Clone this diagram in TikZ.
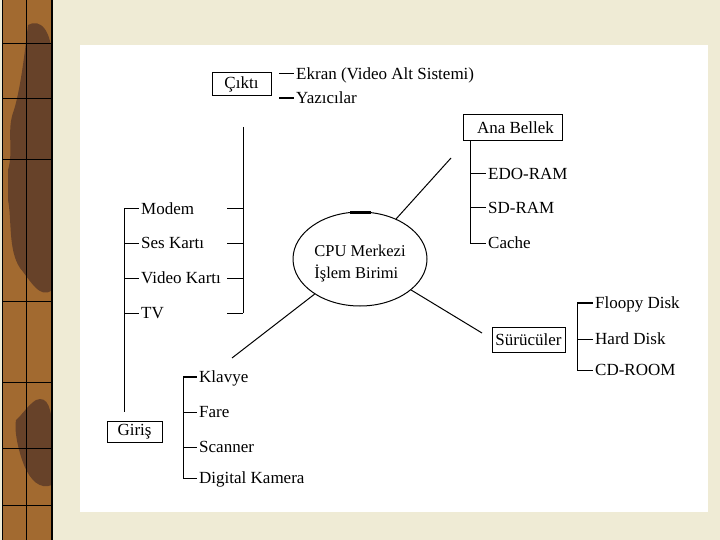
\documentclass[tikz,border=0pt]{standalone}
\usepackage{fontspec}
\setmainfont{Liberation Serif}
\usetikzlibrary{shapes.geometric}
\definecolor{bgbeige}{HTML}{EFEBD5}
\definecolor{woodlight}{HTML}{A26A30}
\definecolor{wooddark}{HTML}{674229}
\begin{document}
\begin{tikzpicture}[x=1pt,y=-1pt,
  every node/.style={font=\fontsize{17}{22}\selectfont},
  box/.style={draw, line width=1pt, inner sep=0pt, fill=white},
  leaf/.style={anchor=west, inner sep=2pt, text height=11.2pt, text depth=0pt},
  ln/.style={line width=1pt},
  thk/.style={line width=2pt},
  grid/.style={line width=0.8pt, black}]
% background
\fill[bgbeige] (0,0) rectangle (720,540);
\useasboundingbox (0,0) rectangle (720,540);
\fill[white] (80,45) rectangle (708,512);
% wooden strip
\fill[woodlight] (2,0) rectangle (52,540);
\fill[wooddark] (28,25) .. controls (40,18) and (52,30) .. (52,60) -- (52,290)
  .. controls (40,300) and (30,280) .. (20,268) .. controls (8,250) and (12,220) .. (8,200)
  -- (8,170) .. controls (14,150) and (6,130) .. (14,110) .. controls (20,90) and (24,60) .. (28,25) -- cycle;
\fill[wooddark] (36,400) .. controls (48,395) and (52,410) .. (52,430) -- (52,485)
  .. controls (40,490) and (30,480) .. (24,465) .. controls (18,450) and (14,430) .. (16,420)
  .. controls (22,415) and (28,405) .. (36,400) -- cycle;
\draw[line width=1.5pt] (2.5,0) -- (2.5,540);
\draw[line width=2pt] (51.5,0) -- (51.5,540);
\draw[grid] (26,0) -- (26,540);
\foreach \yy in {43,98,159,301,382,448,505} \draw[grid] (2,\yy) -- (52,\yy);

% main nodes
\node[box, minimum width=59pt, minimum height=23pt] (cikti) at (241.5,84.5) {Çıktı};
\node[box, minimum width=99pt, minimum height=26pt] (anabellek) at (512.5,128) {\hspace*{6pt}Ana Bellek};
\node[box, minimum width=73pt, minimum height=25pt] (surucu) at (528.5,339.5) {Sürücüler};
\node[box, minimum width=55pt, minimum height=21pt] (giris) at (134.5,431.5) {Giriş};
\node[draw, ellipse, line width=1pt, minimum width=134pt, minimum height=94pt, inner sep=0pt] (cpu) at (360,259) {};
\node[align=left, inner sep=0pt, font=\fontsize{16.5}{22}\selectfont] (cputext) at (360,264) {CPU Merkezi\\İşlem Birimi};
\draw[line width=2.2pt] (350,212.5) -- (371,212.5);

% output leaves
\node[leaf] (ekran) at (294,74) {Ekran (Video Alt Sistemi)};
\node[leaf] (yazici) at (294,98) {Yazıcılar};
\coordinate (ek0) at (279,74);
\coordinate (yz0) at (279,98);
\draw[ln] (ek0) -- (ekran.west);
\draw[thk] (yz0) -- (yazici.west);

% memory
\node[leaf] (edo) at (486,174) {EDO-RAM};
\node[leaf] (sdram) at (486,208) {SD-RAM};
\node[leaf] (cache) at (486,243) {Cache};
\coordinate (abx) at ([xshift=8pt]anabellek.south west);
\draw[ln] (abx) |- (cache.west);
\draw[ln] (edo.west -| abx) -- (edo.west);
\draw[ln] (sdram.west -| abx) -- (sdram.west);

% cards
\node[leaf] (modem) at (139,209) {Modem};
\node[leaf] (ses) at (139,243) {Ses Kartı};
\node[leaf] (video) at (139,278) {Video Kartı};
\node[leaf] (tv) at (139,313) {TV};
\coordinate (lvbot) at (124,412);
\coordinate (rvtop) at (243,127);
\draw[ln] (modem.west -| lvbot) -- (lvbot);
\foreach \n in {modem,ses,video,tv} {
  \draw[ln] (\n.west -| lvbot) -- (\n.west);
  \draw[ln] ([xshift=-16pt]\n.west -| rvtop) -- (\n.west -| rvtop);
}
\draw[ln] (rvtop) -- (tv.west -| rvtop);

% input
\node[leaf] (klavye) at (197,377) {Klavye};
\node[leaf] (fare) at (197,412) {Fare};
\node[leaf] (scanner) at (197,447) {Scanner};
\node[leaf] (kamera) at (197,478) {Digital Kamera};
\coordinate (gv) at (183,377);
\draw[ln] (gv) |- (kamera.west);
\draw[thk] (gv) -- (klavye.west);
\draw[ln] (fare.west -| gv) -- (fare.west);
\draw[ln] (scanner.west -| gv) -- (scanner.west);

% drives
\node[leaf] (floopy) at (593,303) {Floopy Disk};
\node[leaf] (hard) at (593,339) {Hard Disk};
\node[leaf] (cdrom) at (593,370) {CD-ROOM};
\coordinate (sv) at (577,303);
\draw[ln] (sv) |- (cdrom.west);
\draw[thk] (sv) -- (floopy.west);
\draw[ln] (hard.west -| sv) -- (hard.west);

% CPU connectors
\coordinate (cpuNE) at (451,158);
\coordinate (cpuSW) at (232,358);
\coordinate (cpuSE) at (482,333);
\draw[ln] (cpu) -- (cpuNE);
\draw[ln] (cpu) -- (cpuSW);
\draw[ln] (cpu) -- (cpuSE);
\end{tikzpicture}
\end{document}
